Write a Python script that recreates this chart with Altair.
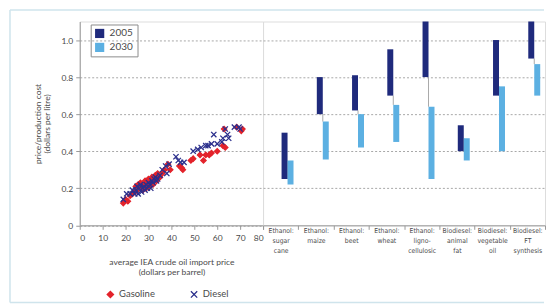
import altair as alt
import pandas as pd

# ---------------- data ----------------
gas_price = [19, 19.5, 20, 21, 22, 23, 24, 24.5, 25, 25.5, 26, 26.5, 27, 27.5, 28, 28.5,
             29, 29.5, 30, 30.5, 31, 31.5, 32, 32.5, 33, 33.5, 34, 35, 36, 37, 38.5, 39.5,
             43.5, 44.5, 45, 48.5, 49.5, 52.5, 54, 55, 56.5, 57.5, 60, 62.5, 63.5, 63,
             68.5, 70.5, 71]
gas_cost = [0.12, 0.13, 0.14, 0.13, 0.16, 0.17, 0.18, 0.21, 0.19, 0.22, 0.20, 0.23, 0.21,
            0.19, 0.22, 0.24, 0.20, 0.23, 0.25, 0.21, 0.24, 0.26, 0.22, 0.25, 0.27, 0.24,
            0.28, 0.26, 0.28, 0.30, 0.33, 0.30, 0.32, 0.31, 0.30, 0.35, 0.36, 0.38, 0.35,
            0.38, 0.38, 0.39, 0.40, 0.43, 0.42, 0.52, 0.53, 0.51, 0.52]

die_price = [19, 20.5, 22, 23, 24, 24.5, 25, 25.5, 26, 26.5, 27, 27.5, 28, 28.5, 29, 29.5,
             30, 30.5, 31, 31.5, 32, 32.5, 33, 33.5, 34, 35, 36, 37.5, 38, 39, 42, 43, 44,
             45.5, 49.5, 51.5, 53, 55, 56, 57.5, 58.5, 60, 62, 62.5, 63.5, 65, 64.5, 67.5,
             69.5, 70]
die_cost = [0.14, 0.17, 0.17, 0.19, 0.17, 0.19, 0.21, 0.17, 0.20, 0.22, 0.18, 0.20, 0.21,
            0.19, 0.22, 0.20, 0.23, 0.22, 0.20, 0.24, 0.23, 0.25, 0.26, 0.24, 0.25, 0.27,
            0.30, 0.32, 0.28, 0.33, 0.37, 0.35, 0.34, 0.34, 0.40, 0.41, 0.42, 0.43, 0.43,
            0.44, 0.49, 0.44, 0.45, 0.47, 0.52, 0.47, 0.49, 0.53, 0.53, 0.52]

fuels = ["Gasoline", "Diesel"]

categories = ["Ethanol:|sugar|cane", "Ethanol:|maize", "Ethanol:|beet", "Ethanol:|wheat",
              "Ethanol:|ligno-|cellulosic", "Biodiesel:|animal|fat",
              "Biodiesel:|vegetable|oil", "Biodiesel:|FT|synthesis"]
years = ["2005", "2030"]
low_2005 = [0.25, 0.60, 0.62, 0.70, 0.80, 0.40, 0.70, 0.90]
high_2005 = [0.50, 0.80, 0.81, 0.95, 1.10, 0.54, 1.00, 1.10]
low_2030 = [0.22, 0.355, 0.42, 0.45, 0.25, 0.35, 0.40, 0.70]
high_2030 = [0.35, 0.56, 0.60, 0.65, 0.64, 0.47, 0.75, 0.87]

x_ticks = list(range(0, 81, 10))
y_ticks = [0, 0.2, 0.4, 0.6, 0.8, 1.0]

# ---------------- style ----------------
FONT = "Lato"
NARROW = "Liberation Sans Narrow, DejaVu Sans Condensed, Lato"
TXT = "#4a4a4a"
GRIDC = "#a8a8a8"
AXC = "#9a9a9a"
BORDER = "#cfe4ec"
RED = "#e3232b"
NAVY = "#2b2f8c"
DARK = "#1f2a7c"
LIGHT = "#5cb0e2"

scatter_df = pd.DataFrame({
    "price": gas_price + die_price,
    "cost": gas_cost + die_cost,
    "fuel": [fuels[0]] * len(gas_price) + [fuels[1]] * len(die_price),
})

rows = []
for i, c in enumerate(categories):
    rows.append({"cat": c, "year": years[0], "low": low_2005[i], "high": high_2005[i]})
    rows.append({"cat": c, "year": years[1], "low": low_2030[i], "high": high_2030[i]})
bars_df = pd.DataFrame(rows)
conn_df = pd.DataFrame({"cat": categories, "top": high_2030, "bottom": low_2005})

one = pd.DataFrame({"k": [0]})

yscale = alt.Scale(domain=[0, 1.1], nice=False)

# ---------------- left panel ----------------
leg = alt.Legend(title=None, orient="none", legendX=26, legendY=269, direction="horizontal",
                 labelFont=FONT, labelFontSize=9.5, labelColor=TXT, symbolSize=40,
                 columnPadding=32, symbolStrokeWidth=1.3, padding=0)

points = alt.Chart(scatter_df).mark_point(filled=False, size=28, opacity=1, strokeWidth=1.3).encode(
    x=alt.X("price:Q", scale=alt.Scale(domain=[0, 80], nice=False),
            axis=alt.Axis(values=x_ticks, grid=False,
                          title=["average IEA crude oil import price", "(dollars per barrel)"],
                          titleFont=FONT, titleFontSize=8.5, titleFontWeight="normal",
                          titleColor=TXT, titlePadding=16, titleLineHeight=10,
                          labelFont=FONT, labelFontSize=8.5, labelColor=TXT, labelPadding=4,
                          tickSize=4, tickColor=AXC, domainColor=AXC)),
    y=alt.Y("cost:Q", scale=yscale,
            axis=alt.Axis(values=y_ticks, grid=True, gridDash=[2, 2], gridColor=GRIDC,
                          labelExpr="datum.value == 0 ? '0' : format(datum.value, '.1f')",
                          title=["price/production cost", "(dollars per litre)"],
                          titleFont=FONT, titleFontSize=8.5, titleFontWeight="normal",
                          titleColor=TXT, titlePadding=9, titleLineHeight=10,
                          labelFont=FONT, labelFontSize=8.5, labelColor=TXT, labelPadding=3,
                          tickSize=4, tickColor=AXC, domainColor=AXC)),
    shape=alt.Shape("fuel:N", scale=alt.Scale(domain=fuels, range=["diamond", "M-1,-1L1,1M-1,1L1,-1"]), legend=leg),
    stroke=alt.Stroke("fuel:N", scale=alt.Scale(domain=fuels, range=[RED, NAVY]), legend=leg),
    fill=alt.Fill("fuel:N", scale=alt.Scale(domain=fuels, range=[RED, "transparent"]), legend=leg),
)

frame_left = alt.Chart(one).mark_rule(color=BORDER, strokeWidth=1.5).encode(
    x=alt.value(-70), y=alt.value(-11.5), y2=alt.value(282))
frame_top = alt.Chart(one).mark_rule(color=BORDER, strokeWidth=1.5).encode(
    x=alt.value(-70), x2=alt.value(466), y=alt.value(-11.5))
frame_bottom = alt.Chart(one).mark_rule(color=BORDER, strokeWidth=1.5).encode(
    x=alt.value(-70), x2=alt.value(466), y=alt.value(282))

left = alt.layer(frame_left, frame_top, frame_bottom, points).properties(width=184, height=204.6)

# ---------------- right panel ----------------
x_axis = alt.Axis(title=None, labelExpr="split(datum.label, '|')", labelFont=NARROW,
                  labelFontSize=6.8, labelLineHeight=10, labelColor=TXT, labelAngle=0,
                  labelOverlap=False, labelPadding=-2, labelBaseline="top",
                  tickBand="extent", tickSize=4, tickColor=AXC, domainColor=AXC)
x_scale = alt.Scale(paddingInner=0, paddingOuter=0)
offset_domain = ["_a", "_b", "_c"] + years

conn = alt.Chart(conn_df).mark_rule(color="#a9a9a9", strokeWidth=1).encode(
    x=alt.X("cat:N", sort=categories, scale=x_scale, axis=x_axis, bandPosition=0.695),
    y=alt.Y("top:Q", scale=yscale,
            axis=alt.Axis(values=y_ticks[1:], grid=True, gridDash=[2, 2], gridColor=GRIDC,
                          labels=False, ticks=False, domain=False, title=None)),
    y2="bottom:Q",
)

bars = alt.Chart(bars_df).mark_bar().encode(
    x=alt.X("cat:N", sort=categories, scale=x_scale, axis=x_axis),
    xOffset=alt.XOffset("year:N", scale=alt.Scale(domain=offset_domain, paddingInner=0,
                                                   paddingOuter=0.45, align=0.11)),
    y=alt.Y("low:Q", scale=yscale),
    y2="high:Q",
    color=alt.Color("year:N", scale=alt.Scale(domain=years, range=[DARK, LIGHT]),
                    legend=alt.Legend(title=None, orient="none", legendX=11, legendY=3,
                                      strokeColor="#8c8c8c", padding=4, symbolType="square",
                                      symbolSize=85, symbolStrokeWidth=0, labelFont=FONT,
                                      labelFontSize=10, labelColor=TXT, rowPadding=4,
                                      labelOffset=5)),
)

right = alt.layer(conn, bars).properties(width=283, height=204.6)

chart = alt.hconcat(left, right, spacing=0, bounds="flush").resolve_scale(
    x="independent", y="shared"
).properties(
    padding={"left": 0, "top": 0, "right": 0, "bottom": 0}
).configure_view(stroke=AXC, strokeWidth=1).configure(background="white")

chart.save("out.html", embed_options={"renderer": "svg", "actions": False})
